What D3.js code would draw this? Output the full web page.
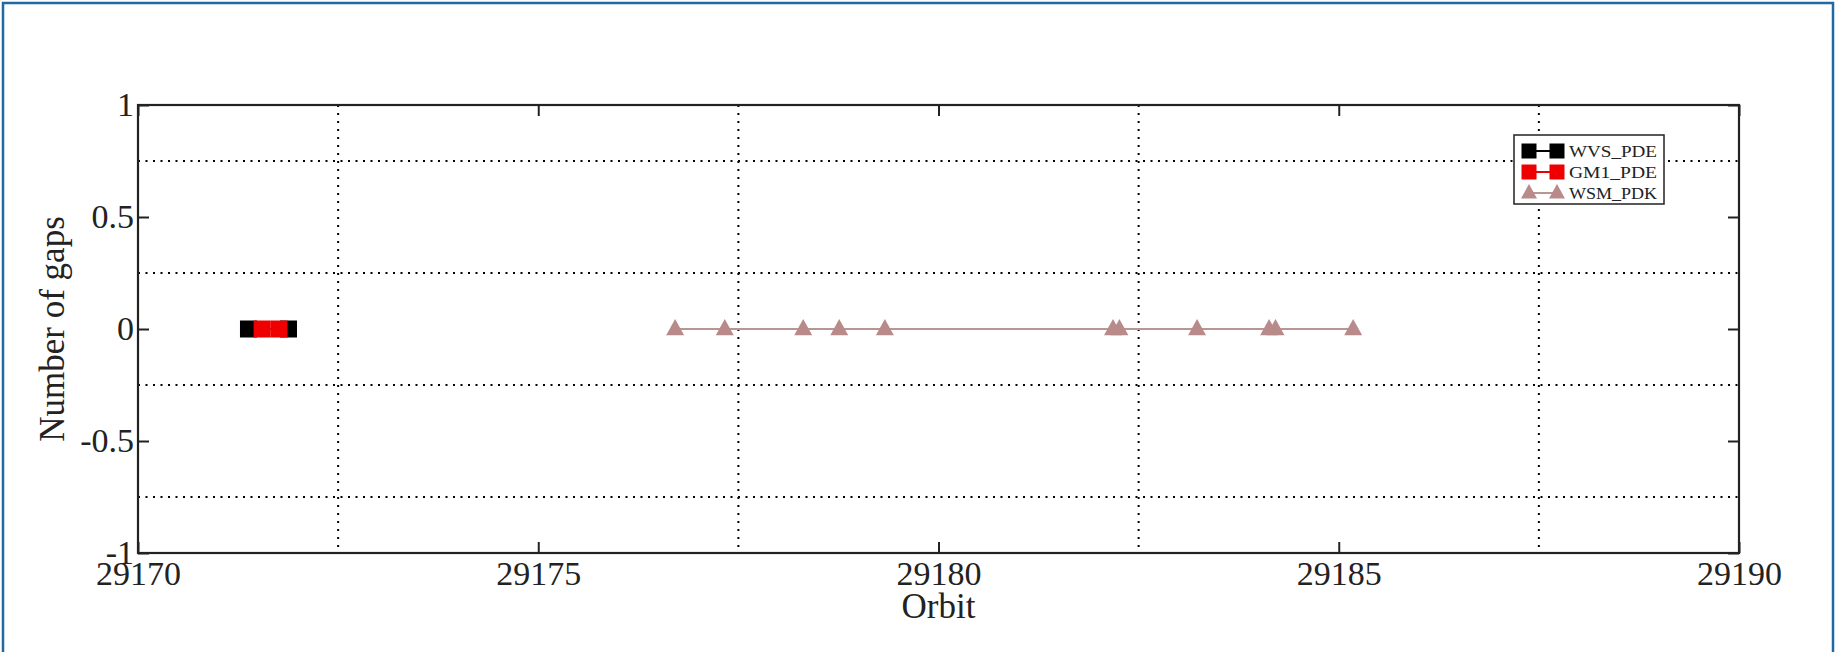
<!DOCTYPE html>
<html>
<head>
<meta charset="utf-8">
<script src="https://cdn.jsdelivr.net/npm/d3@7"></script>
<style>
  html, body { margin: 0; padding: 0; background: #fff; }
  svg { display: block; }
</style>
</head>
<body>
<svg id="chart" width="1835" height="652"></svg>
<script>
// ---- data ----
const xTicks = [29170, 29175, 29180, 29185, 29190];
const yTicks = [-1, -0.5, 0, 0.5, 1];
const xGrid = [29172.5, 29177.5, 29182.5, 29187.5];
const yGrid = [-0.75, -0.25, 0.25, 0.75];

const seriesNames = ["WVS_PDE", "GM1_PDE", "WSM_PDK"];
const seriesColors = ["#000000", "#ee0000", "#b98a8a"];
const seriesSymbols = ["square", "square", "triangle"];

const wvsOrbits = [29171.38, 29171.88];
const wvsGaps   = [0, 0];
const gm1Orbits = [29171.55, 29171.76];
const gm1Gaps   = [0, 0];
const wsmOrbits = [29176.71, 29177.33, 29178.31, 29178.76, 29179.33, 29182.18, 29182.26, 29183.23, 29184.13, 29184.21, 29185.18];
const wsmGaps   = [0, 0, 0, 0, 0, 0, 0, 0, 0, 0, 0];

const xLabel = "Orbit";
const yLabel = "Number of gaps";

// ---- layout ----
const svg = d3.select("#chart");
const W = 1835, H = 652;
const m = { left: 138, right: 1739, top: 105, bottom: 553 };
const font = "'Liberation Serif', 'Times New Roman', serif";

const x = d3.scaleLinear().domain([29170, 29190]).range([m.left, m.right]);
const y = d3.scaleLinear().domain([-1, 1]).range([m.bottom, m.top]);

// outer blue frame
svg.append("rect").attr("x", 3).attr("y", 3).attr("width", W - 5).attr("height", H + 10)
  .attr("fill", "none").attr("stroke", "#1f6aa5").attr("stroke-width", 2.5);

// grid
const g = svg.append("g");
g.selectAll(".gx").data(xGrid).enter().append("line")
  .attr("x1", d => x(d)).attr("x2", d => x(d)).attr("y1", m.top).attr("y2", m.bottom)
  .attr("stroke", "#000").attr("stroke-width", 2).attr("stroke-dasharray", "2,6");
g.selectAll(".gy").data(yGrid).enter().append("line")
  .attr("y1", d => y(d)).attr("y2", d => y(d)).attr("x1", m.left).attr("x2", m.right)
  .attr("stroke", "#000").attr("stroke-width", 2).attr("stroke-dasharray", "2,5.5");

// axes (inner ticks)
const tl = 11;
const xAxisB = d3.axisBottom(x).tickValues(xTicks).tickSize(-tl).tickFormat(d3.format("d")).tickPadding(6);
const xAxisT = d3.axisTop(x).tickValues(xTicks).tickSize(-tl).tickFormat("");
const yAxisL = d3.axisLeft(y).tickValues(yTicks).tickSize(-tl).tickFormat(d => d).tickPadding(5);
const yAxisR = d3.axisRight(y).tickValues(yTicks).tickSize(-tl).tickFormat("");

function styleAxis(sel) {
  sel.select(".domain").remove();
  sel.selectAll("line").attr("stroke", "#222").attr("stroke-width", 2);
  sel.selectAll("text").attr("font-family", font).attr("font-size", 34).attr("fill", "#222");
}
svg.append("g").attr("transform", `translate(0,${m.bottom})`).call(xAxisB).call(styleAxis)
  .selectAll("text").attr("dy", "0.71em").attr("y", 8);
svg.append("g").attr("transform", `translate(0,${m.top})`).call(xAxisT).call(styleAxis);
svg.append("g").attr("transform", `translate(${m.left},0)`).call(yAxisL).call(styleAxis)
  .selectAll("text").attr("x", -4);
svg.append("g").attr("transform", `translate(${m.right},0)`).call(yAxisR).call(styleAxis);

// frame
svg.append("rect").attr("x", m.left).attr("y", m.top)
  .attr("width", m.right - m.left).attr("height", m.bottom - m.top)
  .attr("fill", "none").attr("stroke", "#222").attr("stroke-width", 2.2);

// series
const series = [
  { name: seriesNames[0], color: seriesColors[0], sym: seriesSymbols[0], xs: wvsOrbits, ys: wvsGaps },
  { name: seriesNames[1], color: seriesColors[1], sym: seriesSymbols[1], xs: gm1Orbits, ys: gm1Gaps },
  { name: seriesNames[2], color: seriesColors[2], sym: seriesSymbols[2], xs: wsmOrbits, ys: wsmGaps }
];

function drawMarker(sel, sym, color, size) {
  if (sym === "square") {
    sel.append("rect").attr("x", -size / 2).attr("y", -size / 2)
      .attr("width", size).attr("height", size).attr("fill", color);
  } else {
    const h = size * 0.9;
    sel.append("path")
      .attr("d", `M0,${-h * 0.62} L${size / 2},${h * 0.38} L${-size / 2},${h * 0.38} Z`)
      .attr("fill", color);
  }
}

const line = d3.line().x(d => x(d[0])).y(d => y(d[1]));
series.forEach(s => {
  const pts = s.xs.map((v, i) => [v, s.ys[i]]);
  svg.append("path").datum(pts).attr("d", line)
    .attr("fill", "none").attr("stroke", s.sym === "triangle" ? "#b89696" : s.color)
    .attr("stroke-width", 2);
  const mk = svg.append("g").selectAll("g").data(pts).enter().append("g")
    .attr("transform", d => `translate(${x(d[0])},${y(d[1])})`);
  mk.each(function () { drawMarker(d3.select(this), s.sym, s.color, s.sym === "square" ? 17 : 18); });
});

// legend
const lg = svg.append("g").attr("transform", "translate(1514,135)");
lg.append("rect").attr("width", 150).attr("height", 69).attr("fill", "#fff")
  .attr("stroke", "#222").attr("stroke-width", 1.5);
series.forEach((s, i) => {
  const yy = 16 + i * 21;
  lg.append("line").attr("x1", 15).attr("x2", 43).attr("y1", yy).attr("y2", yy)
    .attr("stroke", s.sym === "triangle" ? "#b89696" : s.color).attr("stroke-width", 2);
  [15, 43].forEach(xx => {
    const mg = lg.append("g").attr("transform", `translate(${xx},${yy})`);
    drawMarker(mg, s.sym, s.color, s.sym === "square" ? 15 : 16);
  });
  lg.append("text").attr("x", 55).attr("y", yy).attr("dy", "0.35em")
    .attr("font-family", font).attr("font-size", 16).attr("fill", "#222")
    .attr("textLength", 88).attr("lengthAdjust", "spacingAndGlyphs")
    .text(s.name);
});

// axis labels
svg.append("text").attr("x", (m.left + m.right) / 2).attr("y", 618)
  .attr("text-anchor", "middle").attr("font-family", font).attr("font-size", 35).attr("fill", "#222")
  .text(xLabel);
svg.append("text").attr("transform", `translate(64,${(m.top + m.bottom) / 2}) rotate(-90)`)
  .attr("text-anchor", "middle").attr("font-family", font).attr("font-size", 35).attr("fill", "#222")
  .text(yLabel);
</script>
</body>
</html>
